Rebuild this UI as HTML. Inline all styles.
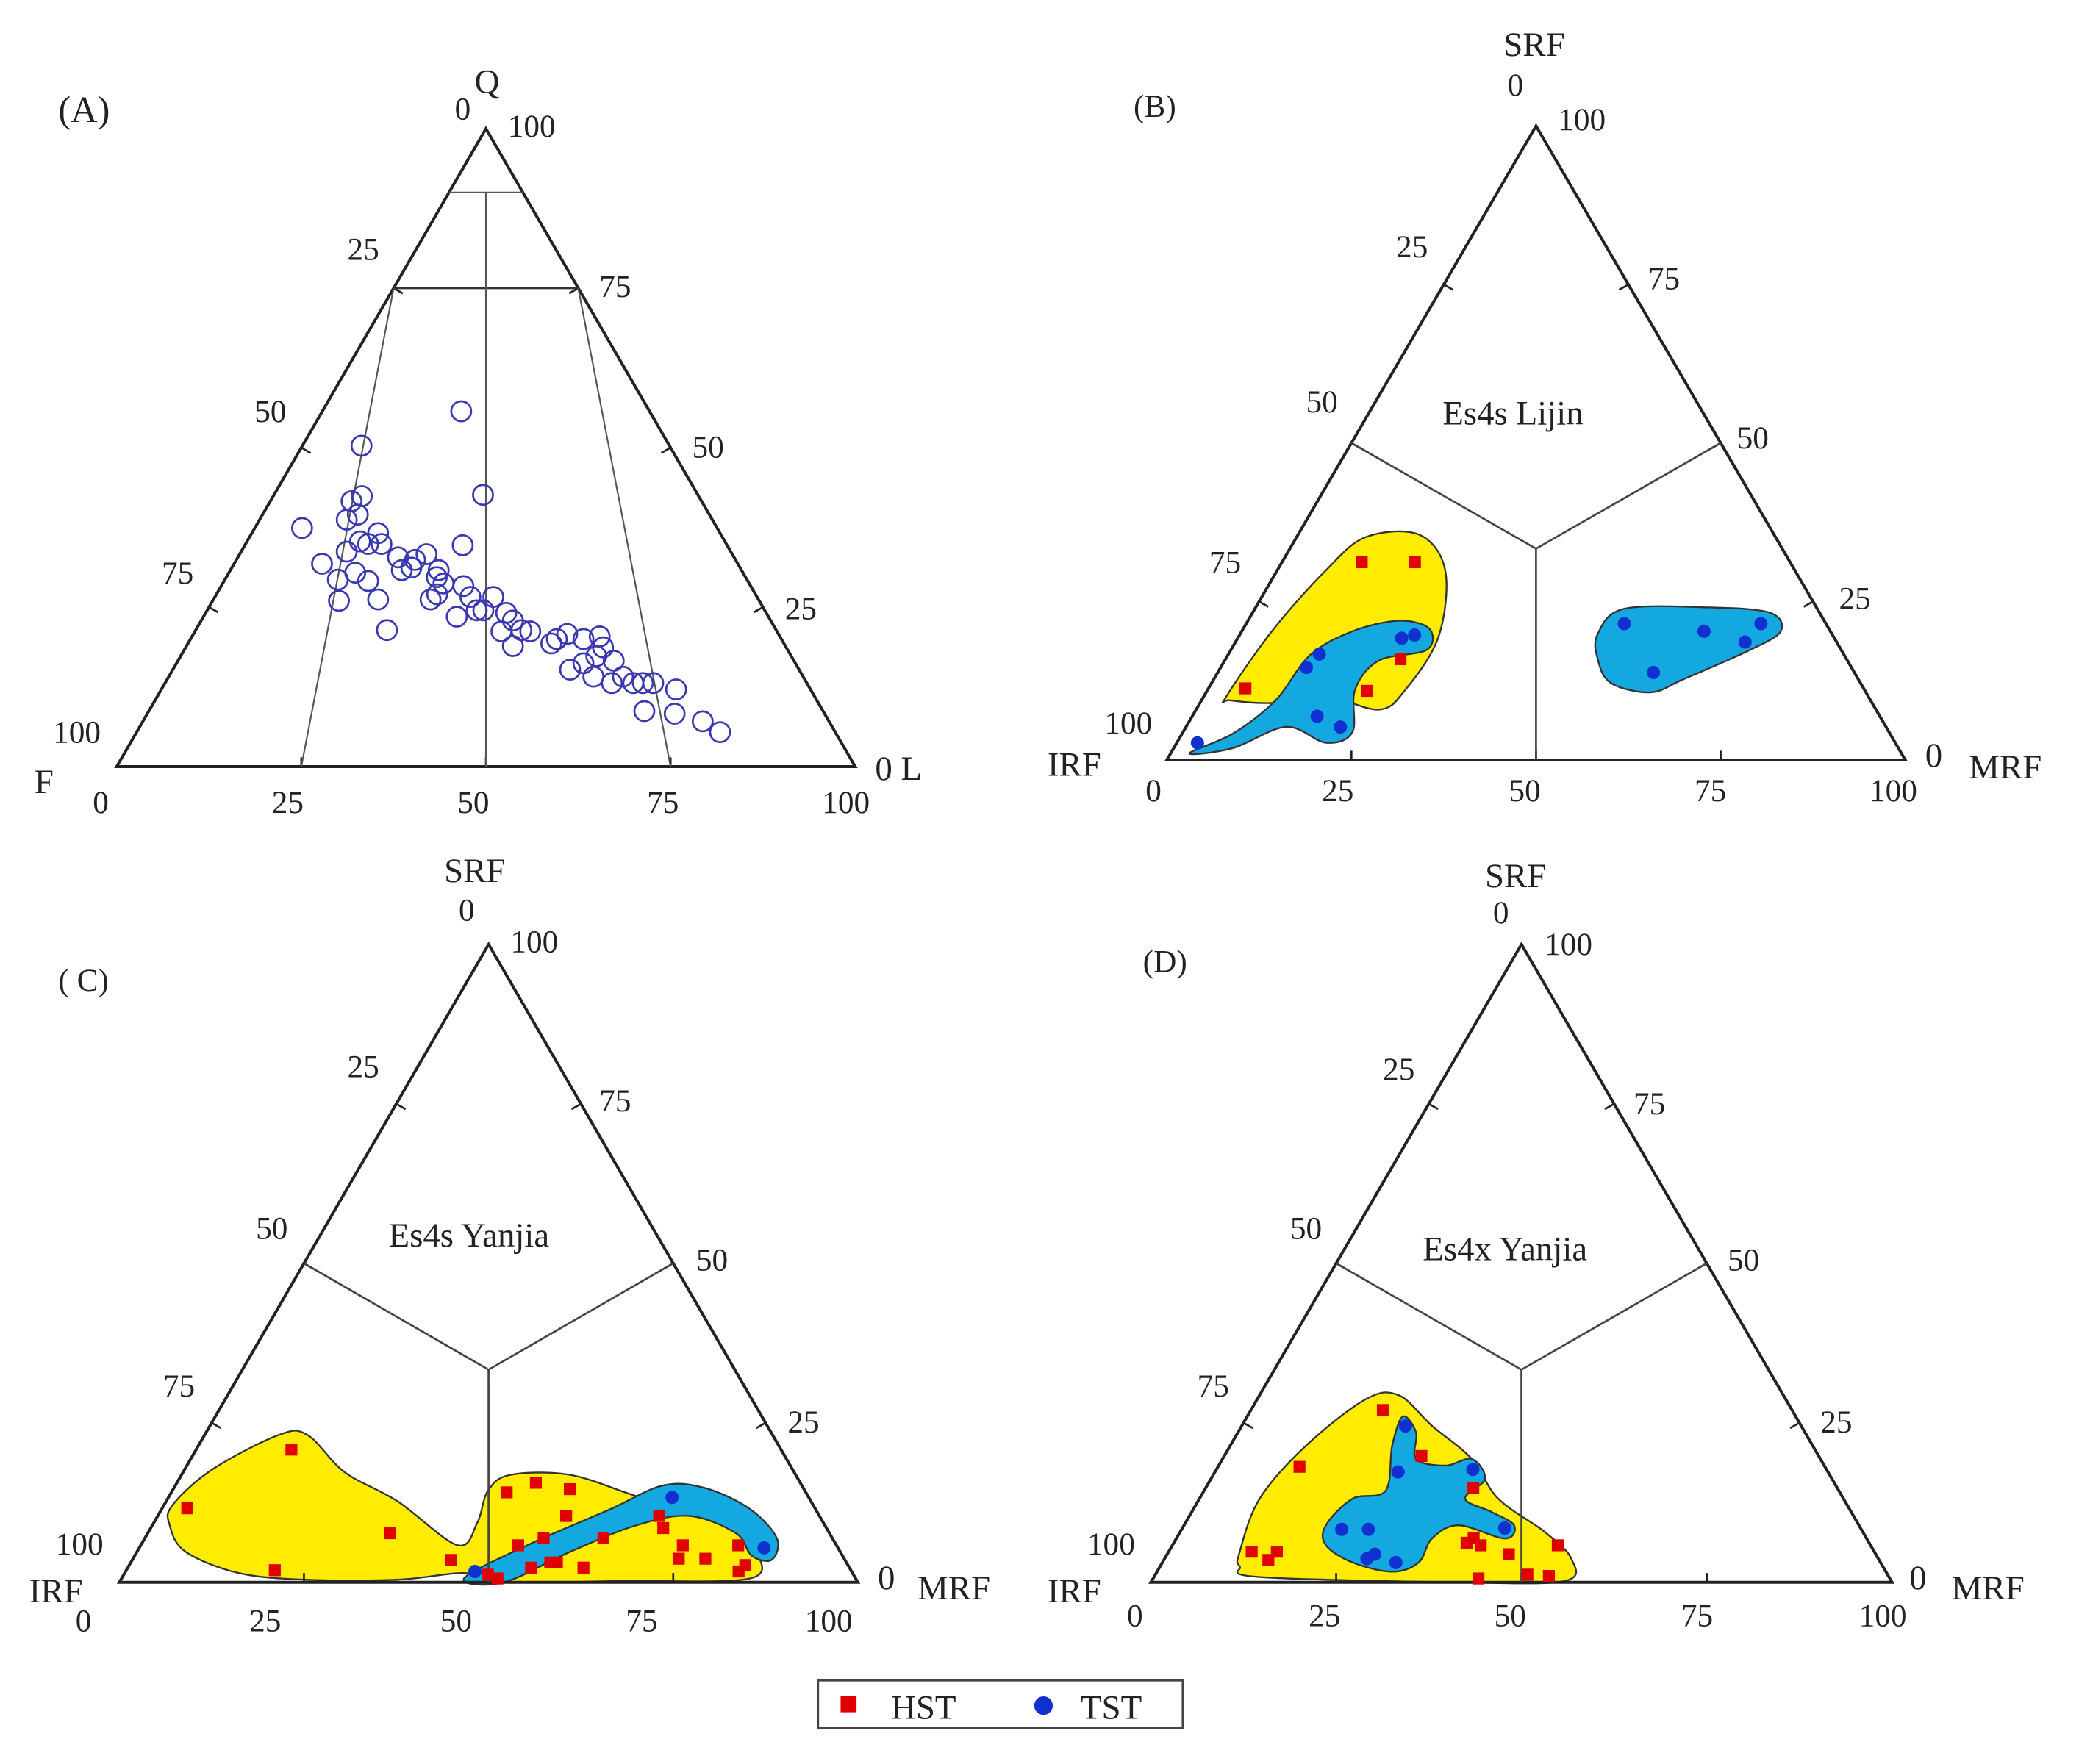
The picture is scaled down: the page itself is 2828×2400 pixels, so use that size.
<!DOCTYPE html>
<html><head><meta charset="utf-8"><style>
html,body{margin:0;padding:0;background:#fff}
svg{display:block}
text{font-family:"Liberation Serif",serif;fill:#222}
</style></head><body>
<svg id="chart" width="2828" height="2400" viewBox="0 0 1568 1330" preserveAspectRatio="none" xmlns="http://www.w3.org/2000/svg"></svg>
<script>
// Panel A: Q (top) and L (right) percentages
const aQ=[55.7,50.3,42.6,37.4,42.4,41.6,38.7,39.5,36.6,35.3,33.7,34.9,34.9,32.8,32.4,33.3,34.7,31.8,29.3,30.4,29.1,30.8,31.2,30.8,28.7,28.3,26.0,26.2,26.2,27.0,26.6,26.6,24.5,23.5,24.5,24.1,22.9,21.4,21.2,21.2,18.9,21.4,19.3,20.8,20.0,20.4,18.7,15.2,16.2,17.3,16.6,14.1,13.1,14.1,13.1,13.1,13.1,12.1,8.7,8.3,7.1,5.4,20.0,29.7];
const aL=[18.8,8.0,28.3,6.4,12.0,11.0,11.8,12.9,17.1,15.3,14.3,16.6,18.4,21.7,24.2,25.3,29.5,11.9,15.3,17.1,19.5,23.2,24.3,28.2,29.9,32.8,17.1,22.3,29.4,29.9,34.6,37.7,37.4,34.3,36.5,40.7,42.2,44.1,41.5,45.4,44.2,25.9,49.2,50.6,53.2,55.2,56.5,53.8,55.1,56.3,59.0,57.5,60.5,61.5,63.4,64.7,66.1,69.7,67.1,71.4,75.8,79.0,49.6,28.5];
// Panel B: SRF (top) and MRF (right)
const bHstS=[31.2,31.2,11.3,10.9,15.9];
const bHstM=[10.8,18.0,5.0,21.7,23.7];
const bTstS=[21.5,20.3,21.5,18.6,13.8,19.7,19.2,16.7,14.6,6.9,5.2,2.7];
const bTstM=[51.2,62.6,69.7,69.0,59.0,23.7,22.2,12.3,11.6,16.9,20.9,2.8];
// Panel C
const cHstS=[20.8,11.6,1.9,7.7,3.5,14.1,15.6,10.4,14.6,5.8,6.9,3.1,2.3,2.3,3.1,0.6,1.2,6.9,10.4,8.5,5.8,3.7,3.7,5.8,1.7,2.7];
const cHstM=[12.9,3.4,20.1,32.8,43.2,45.4,48.6,55.3,53.7,51.1,54.0,57.7,54.6,61.7,56.8,50.9,49.3,62.1,67.9,69.4,73.4,73.9,77.5,80.9,83.0,83.4];
const cTstS=[13.3,5.4,1.7];
const cTstM=[68.2,84.6,47.3];
// Panel D
const dHstS=[27.0,18.1,4.8,3.5,4.8,19.8,14.8,6.2,6.9,5.8,4.4,0.6,1.2,1.0,5.8];
const dHstM=[17.8,11.0,11.2,14.1,14.6,26.6,36.1,39.5,40.1,41.6,46.1,43.9,50.2,53.2,52.0];
const dTstS=[24.5,17.3,17.7,8.5,8.3,8.3,3.7,4.4,3.1];
const dTstM=[22.1,24.7,34.6,43.5,21.6,25.2,27.3,28.0,31.5];
const tickVals=[25,50,75];

const NS="http://www.w3.org/2000/svg";
const svg=document.getElementById('chart');
function mk(tag,attrs,parent){const e=document.createElementNS(NS,tag);for(const k in attrs)e.setAttribute(k,attrs[k]);(parent||svg).appendChild(e);return e;}
function tri(ax,ay,lx,by,rx){const W=rx-lx,H=by-ay;return (t,r)=>[lx+(r+t/2)/100*W, by-t/100*H];}
function txt(x,y,s,size,name){const e=mk('text',{x:x,y:y,'font-size':size||24});e.textContent=s;

return e;}
function line(p,q,w,col,name){const e=mk('line',{x1:p[0],y1:p[1],x2:q[0],y2:q[1],stroke:col||'#222','stroke-width':w||2});

return e;}
function outline(P,name){const e=mk('path',{d:'M'+P(100,0)+'L'+P(0,0)+'L'+P(0,100)+'Z',fill:'none',stroke:'#222','stroke-width':2.2});

}
function ticks(P){tickVals.forEach(v=>{
 let p=P(v,0);line(p,[p[0]+7,p[1]+4],1.5,'#222','left-tick');
 p=P(v,100-v);line(p,[p[0]-7,p[1]+4],1.5,'#222','right-tick');
 p=P(0,v);line(p,[p[0],p[1]-7],1.5,'#222','base-tick');});}
function blob(pts,fill,name){let d='M'+pts[0];const n=pts.length;
 for(let i=0;i<n;i++){const p0=pts[(i-1+n)%n],p1=pts[i],p2=pts[(i+1)%n],p3=pts[(i+2)%n];
  const c1=[p1[0]+(p2[0]-p0[0])/6,p1[1]+(p2[1]-p0[1])/6],c2=[p2[0]-(p3[0]-p1[0])/6,p2[1]-(p3[1]-p1[1])/6];
  d+='C'+c1+' '+c2+' '+p2;}
 const e=mk('path',{d:d+'Z',fill:fill,stroke:'#333','stroke-width':1.3});
 
 }
function hst(P,S,M,g){S.forEach((s,i)=>{const p=P(s,M[i]);const e=mk('rect',{x:p[0]-4.5,y:p[1]-4.5,width:9,height:9,fill:'#e00000'},g);
 
 });}
function tst(P,S,M,g){S.forEach((s,i)=>{const p=P(s,M[i]);const e=mk('circle',{cx:p[0],cy:p[1],r:5,fill:'#1030d0'},g);
 
 });}
function inner(P){const c=P(33.33,33.33);line(P(50,0),c,1.5,'#444','boundary-line');line(P(50,50),c,1.5,'#444','boundary-line');line(P(0,50),c,1.5,'#444','boundary-line');}

// ---- Panel A
const PA=tri(367,97,88,578,645);
outline(PA,'panel-a-triangle');ticks(PA);
line(PA(90,0),PA(90,10),1.2,'#555','q90-line');
line(PA(75,0),PA(75,25),1.5,'#333','q75-line');
line(PA(75,0),PA(0,25),1.2,'#555','ratio-line-25');
line(PA(90,5),PA(0,50),1.2,'#555','ratio-line-50');
line(PA(75,25),PA(0,75),1.2,'#555','ratio-line-75');
const gA=mk('g',{});
aQ.forEach((q,i)=>{const p=PA(q,aL[i]);const e=mk('circle',{cx:p[0],cy:p[1],r:7.5,fill:'none',stroke:'#3838b0','stroke-width':1.5},gA);
 
 });
txt(44,92,'(A)',28,'panel-a-label');txt(358,70,'Q',26,'q-axis-title');txt(343,90,'0');txt(383,103,'100');
txt(262,196,'25');txt(452,224,'75');txt(192,318,'50');txt(522,345,'50');txt(122,440,'75');txt(592,467,'25');
txt(40,560,'100');txt(26,598,'F',26,'f-axis-title');txt(660,588,'0 L',26,'l-axis-title');
txt(70,613,'0');txt(205,613,'25');txt(345,613,'50');txt(488,613,'75');txt(620,613,'100');

// ---- Panel B
const PB=tri(1160,95,880,573,1437);
blob([[925,525],[960,475],[1000,430],[1030,405],[1070,403],[1090,430],[1085,480],[1060,520],[1040,535],[1000,525],[960,530],[928,528]],'#ffec00','hst-region');
blob([[897,568],[930,553],[962,528],[988,494],[1020,476],[1055,468],[1078,474],[1076,490],[1040,498],[1022,520],[1020,552],[1000,560],[970,548],[930,564]],'#14a8e0','tst-region');
blob([[1205,478],[1225,459],[1290,458],[1335,462],[1343,476],[1320,490],[1270,512],[1245,522],[1215,515],[1205,497]],'#14a8e0','tst-region');
outline(PB,'panel-b-triangle');ticks(PB);inner(PB);
hst(PB,bHstS,bHstM);tst(PB,bTstS,bTstM);
txt(855,88,'(B)',24,'panel-b-label');txt(1134,42,'SRF',26,'srf-axis-title');txt(1137,72,'0');txt(1175,98,'100');
txt(1053,194,'25');txt(1243,218,'75');txt(985,311,'50');txt(1310,338,'50');txt(912,432,'75');txt(1387,459,'25');
txt(1088,320,'Es4s Lijin',26,'panel-b-title');
txt(833,553,'100');txt(790,585,'IRF',26,'irf-axis-title');txt(1452,578,'0',26);txt(1485,587,'MRF',26,'mrf-axis-title');
txt(864,604,'0');txt(997,604,'25');txt(1138,604,'50');txt(1278,604,'75');txt(1410,604,'100');

// ---- Panel C
const PC=tri(368,712,90,1193,647);
blob([[130,1135],[160,1108],[210,1082],[232,1082],[260,1110],[300,1132],[345,1165],[360,1148],[368,1124],[385,1112],[430,1112],[480,1128],[520,1138],[560,1150],[570,1168],[566,1190],[470,1192],[370,1193],[350,1186],[300,1191],[230,1191],[180,1186],[140,1170],[128,1150]],'#ffec00','hst-region');
blob([[350,1190],[400,1164],[460,1138],[500,1120],[532,1122],[566,1138],[586,1160],[582,1176],[567,1173],[555,1156],[520,1143],[480,1150],[430,1170],[380,1193]],'#14a8e0','tst-region');
outline(PC,'panel-c-triangle');ticks(PC);inner(PC);
hst(PC,cHstS,cHstM);tst(PC,cTstS,cTstM);
txt(44,747,'( C)',24,'panel-c-label');txt(335,665,'SRF',26,'srf-axis-title');txt(346,694,'0');txt(385,718,'100');
txt(262,812,'25');txt(452,838,'75');txt(193,934,'50');txt(525,958,'50');txt(123,1053,'75');txt(594,1080,'25');
txt(293,940,'Es4s Yanjia',26,'panel-c-title');
txt(42,1172,'100');txt(22,1208,'IRF',26,'irf-axis-title');txt(662,1198,'0',26);txt(692,1206,'MRF',26,'mrf-axis-title');
txt(57,1230,'0');txt(188,1230,'25');txt(332,1230,'50');txt(472,1230,'75');txt(607,1230,'100');

// ---- Panel D
const PD=tri(1147,712,868,1193,1427);
blob([[935,1170],[950,1130],[985,1090],[1030,1055],[1055,1052],[1080,1075],[1110,1100],[1130,1130],[1165,1155],[1185,1175],[1180,1192],[1100,1193],[950,1189],[935,1181]],'#ffec00','hst-region');
blob([[1000,1150],[1020,1130],[1045,1124],[1050,1090],[1058,1068],[1068,1080],[1068,1100],[1090,1105],[1110,1100],[1120,1115],[1105,1130],[1125,1140],[1142,1150],[1135,1160],[1100,1150],[1080,1160],[1070,1178],[1050,1185],[1020,1178],[1000,1165]],'#14a8e0','tst-region');
outline(PD,'panel-d-triangle');ticks(PD);inner(PD);
hst(PD,dHstS,dHstM);tst(PD,dTstS,dTstM);
txt(862,733,'(D)',24,'panel-d-label');txt(1120,669,'SRF',26,'srf-axis-title');txt(1126,696,'0');txt(1165,720,'100');
txt(1043,814,'25');txt(1232,840,'75');txt(973,934,'50');txt(1303,958,'50');txt(903,1053,'75');txt(1373,1080,'25');
txt(1073,950,'Es4x Yanjia',26,'panel-d-title');
txt(820,1172,'100');txt(790,1208,'IRF',26,'irf-axis-title');txt(1440,1198,'0',26);txt(1472,1206,'MRF',26,'mrf-axis-title');
txt(850,1226,'0');txt(987,1226,'25');txt(1127,1226,'50');txt(1268,1226,'75');txt(1402,1226,'100');

// ---- Legend
const lg=mk('g',{});
mk('rect',{x:617,y:1267,width:275,height:36,fill:'#fff',stroke:'#444','stroke-width':1.5},lg);
const r1=mk('rect',{x:634,y:1279,width:12,height:12,fill:'#e00000'},lg);
const t1=txt(672,1296,'HST',26,'legend-hst-label');lg.appendChild(t1);
const c1=mk('circle',{cx:787,cy:1286,r:7,fill:'#1030d0'},lg);
const t2=txt(815,1296,'TST',26,'legend-tst-label');lg.appendChild(t2);
</script>
</body></html>
